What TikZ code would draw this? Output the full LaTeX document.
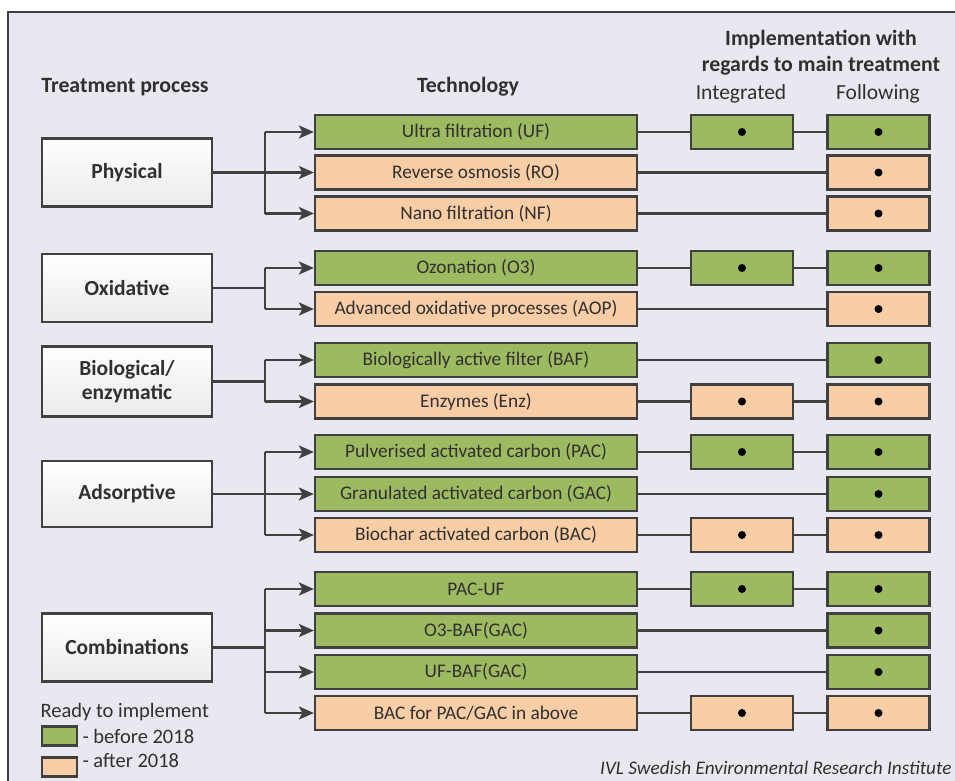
\documentclass[tikz,border=0pt]{standalone}
\usepackage{fontspec}
\setmainfont{Carlito}
\usetikzlibrary{arrows.meta,positioning}
\definecolor{bgc}{HTML}{E9E7EF}
\definecolor{grn}{HTML}{9DBA60}
\definecolor{org}{HTML}{F9CDA5}
\definecolor{ln}{HTML}{404040}
\definecolor{txt}{HTML}{303030}
\tikzset{
  procbox/.style={draw=ln,line width=2.2pt,top color=white,bottom color=white!92!black,minimum width=170pt,minimum height=68pt,align=center,font=\fontsize{21.5}{24}\selectfont\bfseries,text=txt,inner sep=0pt},
  techbox/.style={draw=ln,line width=2.2pt,minimum width=322pt,minimum height=34pt,font=\fontsize{19.3}{22}\selectfont,text=txt,inner sep=0pt},
  dotbox/.style={draw=ln,line width=2.2pt,minimum width=102pt,minimum height=34pt,inner sep=0pt},
  gbox/.style={fill=grn},
  obox/.style={fill=org},
  conn/.style={draw=ln,line width=2.4pt},
  arr/.style={conn,-{Stealth[length=15pt,width=13pt,inset=3.5pt]}},
  head/.style={font=\fontsize{21.8}{25}\selectfont\bfseries,text=txt},
  sub/.style={font=\fontsize{21.5}{25}\selectfont,text=txt},
  dotmark/.style={circle,fill=black,inner sep=0pt,minimum size=8pt}
}
\begin{document}
\begin{tikzpicture}[x=1pt,y=-1pt]
\useasboundingbox (0,0) rectangle (955,780);
\fill[white] (0,0) rectangle (955,780);
\fill[bgc] (8,12) rectangle (960,790);
\draw[ln,line width=1.8pt] (8,790) -- (8,12) -- (960,12);
% headings
\node[head] (hTP) at (125,87) {Treatment process};
\node[head] (hTe) at (468,87) {Technology};
\node[head] (hI1) at (821,40) {Implementation with};
\node[head] (hI2) at (821,66) {regards to main treatment};
\node[sub] (hInt) at (741,94) {Integrated};
\node[sub] (hFol) at (878,94) {Following};
% process boxes
\node[procbox] (pPhy) at (127,172.5) {Physical};
\node[procbox] (pOxi) at (127,288) {Oxidative};
\node[procbox,minimum height=70pt] (pBio) at (127,381.5) {Biological/\\enzymatic};
\node[procbox,minimum height=66pt] (pAds) at (127,494) {Adsorptive};
\node[procbox] (pCom) at (127,647.5) {Combinations};
% technology boxes
\node[techbox,gbox] (t1) at (476,132) {Ultra filtration (UF)};
\node[techbox,obox] (t2) at (476,172.5) {Reverse osmosis (RO)};
\node[techbox,obox] (t3) at (476,213.5) {Nano filtration (NF)};
\node[techbox,gbox] (t4) at (476,268) {Ozonation (O3)};
\node[techbox,obox] (t5) at (476,309) {Advanced oxidative processes (AOP)};
\node[techbox,gbox] (t6) at (476,360) {Biologically active filter (BAF)};
\node[techbox,obox] (t7) at (476,401.5) {Enzymes (Enz)};
\node[techbox,gbox] (t8) at (476,452) {Pulverised activated carbon (PAC)};
\node[techbox,gbox] (t9) at (476,494) {Granulated activated carbon (GAC)};
\node[techbox,obox] (t10) at (476,535) {Biochar activated carbon (BAC)};
\node[techbox,gbox] (t11) at (476,589) {PAC-UF};
\node[techbox,gbox] (t12) at (476,630.5) {O3-BAF(GAC)};
\node[techbox,gbox] (t13) at (476,672) {UF-BAF(GAC)};
\node[techbox,obox] (t14) at (476,713) {BAC for PAC/GAC in above};
% following boxes
\foreach \i/\y/\c in {1/132/gbox,2/172.5/obox,3/213.5/obox,4/268/gbox,5/309/obox,6/360/gbox,7/401.5/obox,8/452/gbox,9/494/gbox,10/535/obox,11/589/gbox,12/630.5/gbox,13/672/gbox,14/713/obox}{
  \node[dotbox,\c] (f\i) at (878.5,\y) {};
  \node[dotmark] (fd\i) at (f\i.center) {};
}
% integrated boxes
\foreach \i/\y/\c in {1/132/gbox,4/268/gbox,7/401.5/obox,8/452/gbox,10/535/obox,11/589/gbox,14/713/obox}{
  \node[dotbox,\c] (g\i) at (742,\y) {};
  \node[dotmark] (gd\i) at (g\i.center) {};
}
% right side connectors
\foreach \i in {1,4,7,8,10,11,14}{
  \draw[conn] (t\i.east) -- (g\i.west);
  \draw[conn] (g\i.east) -- (f\i.west);
}
\foreach \i in {2,3,5,6,9,12,13}{
  \draw[conn] (t\i.east) -- (f\i.west);
}
% branch connectors
\coordinate (bPhy) at (265,172.5);
\coordinate (bOxi) at (265,288);
\coordinate (bBio) at (265,381.5);
\coordinate (bAds) at (265,494);
\coordinate (bCom) at (265,647.5);
\draw[conn] (pPhy.east) -- (bPhy);
\draw[conn] (pOxi.east) -- (bOxi);
\draw[conn] (pBio.east) -- (bBio);
\draw[conn] (pAds.east) -- (bAds);
\draw[conn] (pCom.east) -- (bCom);
\draw[conn] (bPhy |- t1) -- (bPhy |- t3);
\draw[conn] (bOxi |- t4) -- (bOxi |- t5);
\draw[conn] (bBio |- t6) -- (bBio |- t7);
\draw[conn] (bAds |- t8) -- (bAds |- t10);
\draw[conn] (bCom |- t11) -- (bCom |- t14);
\foreach \i in {1,2,3}{\draw[arr] (bPhy |- t\i) -- (t\i.west);}
\foreach \i in {4,5}{\draw[arr] (bOxi |- t\i) -- (t\i.west);}
\foreach \i in {6,7}{\draw[arr] (bBio |- t\i) -- (t\i.west);}
\foreach \i in {8,9,10}{\draw[arr] (bAds |- t\i) -- (t\i.west);}
\foreach \i in {11,12,13,14}{\draw[arr] (bCom |- t\i) -- (t\i.west);}
% legend
\node[font=\fontsize{20.5}{23}\selectfont,text=txt,anchor=west] (lgT) at (37,712) {Ready to implement};
\node[draw=ln,line width=2.2pt,fill=grn,minimum width=35pt,minimum height=19pt,inner sep=0pt] (lgG) at (59.5,736) {};
\node[draw=ln,line width=2.2pt,fill=org,minimum width=35pt,minimum height=19pt,inner sep=0pt] (lgO) at (59.5,767) {};
\node[font=\fontsize{20.5}{23}\selectfont,text=txt,anchor=west] (lgGt) at (79,736) {- before 2018};
\node[font=\fontsize{20.5}{23}\selectfont,text=txt,anchor=west] (lgOt) at (79,761) {- after 2018};
% footer
\node[font=\fontsize{19.2}{22}\selectfont\itshape,text=txt,anchor=east] (foot) at (955,768) {IVL Swedish Environmental Research Institute};
\end{tikzpicture}
\end{document}
